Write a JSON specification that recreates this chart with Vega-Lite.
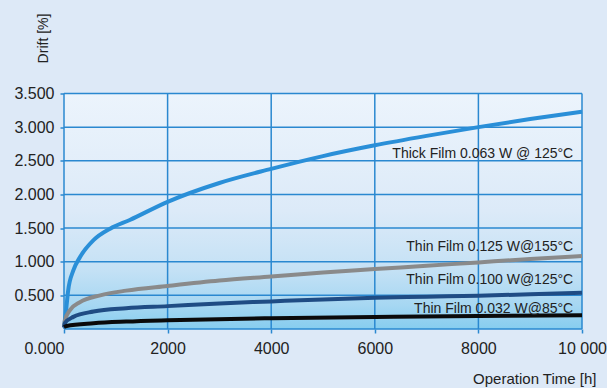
{
  "$schema": "https://vega.github.io/schema/vega-lite/v6.json",
  "width": 518,
  "height": 235.5,
  "autosize": {"type": "none"},
  "padding": {"left": 64, "top": 93.5, "right": 25, "bottom": 59},
  "background": "#dde9f7",
  "config": {"view": {"stroke": null}, "font": "Liberation Sans"},
  "datasets": {
    "bg": [{"x": 0, "x2": 10000, "y": 0, "y2": 3.5}],
    "vgrid": [{"x": 0}, {"x": 2000}, {"x": 4000}, {"x": 6000}, {"x": 8000}, {"x": 10000}],
    "hgrid": [{"y": 0}, {"y": 0.5}, {"y": 1}, {"y": 1.5}, {"y": 2}, {"y": 2.5}, {"y": 3}, {"y": 3.5}],
    "curves": [
      {"series": "Thick", "x": 0, "y": 0.03},
      {"series": "Thick", "x": 40, "y": 0.28},
      {"series": "Thick", "x": 80, "y": 0.57},
      {"series": "Thick", "x": 180, "y": 0.87},
      {"series": "Thick", "x": 310, "y": 1.07},
      {"series": "Thick", "x": 570, "y": 1.32},
      {"series": "Thick", "x": 890, "y": 1.49},
      {"series": "Thick", "x": 1270, "y": 1.62},
      {"series": "Thick", "x": 2000, "y": 1.89},
      {"series": "Thick", "x": 3000, "y": 2.17},
      {"series": "Thick", "x": 4000, "y": 2.38},
      {"series": "Thick", "x": 5000, "y": 2.57},
      {"series": "Thick", "x": 6000, "y": 2.73},
      {"series": "Thick", "x": 7000, "y": 2.87},
      {"series": "Thick", "x": 8000, "y": 3.0},
      {"series": "Thick", "x": 9000, "y": 3.12},
      {"series": "Thick", "x": 10000, "y": 3.23},
      {"series": "T125", "x": 0, "y": 0.03},
      {"series": "T125", "x": 20, "y": 0.13},
      {"series": "T125", "x": 115, "y": 0.28},
      {"series": "T125", "x": 310, "y": 0.4},
      {"series": "T125", "x": 700, "y": 0.5},
      {"series": "T125", "x": 1200, "y": 0.57},
      {"series": "T125", "x": 2000, "y": 0.64},
      {"series": "T125", "x": 3000, "y": 0.72},
      {"series": "T125", "x": 4000, "y": 0.78},
      {"series": "T125", "x": 5000, "y": 0.84},
      {"series": "T125", "x": 6000, "y": 0.89},
      {"series": "T125", "x": 7000, "y": 0.94},
      {"series": "T125", "x": 8000, "y": 0.99},
      {"series": "T125", "x": 9000, "y": 1.04},
      {"series": "T125", "x": 10000, "y": 1.085},
      {"series": "T100", "x": 0, "y": 0.02},
      {"series": "T100", "x": 20, "y": 0.09},
      {"series": "T100", "x": 180, "y": 0.18},
      {"series": "T100", "x": 570, "y": 0.26},
      {"series": "T100", "x": 1200, "y": 0.31},
      {"series": "T100", "x": 2000, "y": 0.34},
      {"series": "T100", "x": 3000, "y": 0.38},
      {"series": "T100", "x": 4000, "y": 0.41},
      {"series": "T100", "x": 5000, "y": 0.44},
      {"series": "T100", "x": 6000, "y": 0.465},
      {"series": "T100", "x": 7000, "y": 0.48},
      {"series": "T100", "x": 8000, "y": 0.495},
      {"series": "T100", "x": 9000, "y": 0.515},
      {"series": "T100", "x": 10000, "y": 0.54},
      {"series": "T032", "x": 0, "y": 0.03},
      {"series": "T032", "x": 50, "y": 0.045},
      {"series": "T032", "x": 570, "y": 0.085},
      {"series": "T032", "x": 1200, "y": 0.11},
      {"series": "T032", "x": 2000, "y": 0.13},
      {"series": "T032", "x": 4000, "y": 0.16},
      {"series": "T032", "x": 6000, "y": 0.18},
      {"series": "T032", "x": 8000, "y": 0.195},
      {"series": "T032", "x": 10000, "y": 0.205}
    ],
    "labels": [
      {"label": "Thick Film 0.063 W @ 125°C", "x": 9830, "y": 2.54},
      {"label": "Thin Film 0.125 W@155°C", "x": 9830, "y": 1.16},
      {"label": "Thin Film 0.100 W@125°C", "x": 9830, "y": 0.67},
      {"label": "Thin Film 0.032 W@85°C", "x": 9830, "y": 0.24}
    ]
  },
  "layer": [
    {
      "data": {"name": "bg"},
      "mark": {
        "type": "rect",
        "fill": {
          "gradient": "linear", "x1": 0, "y1": 0, "x2": 0, "y2": 1,
          "stops": [
            {"offset": 0, "color": "#ecf4fc"},
            {"offset": 0.5, "color": "#dceaf8"},
            {"offset": 0.75, "color": "#c4e1f5"},
            {"offset": 0.9, "color": "#a6d7f2"},
            {"offset": 1, "color": "#86cdef"}
          ]
        }
      },
      "encoding": {
        "x": {
          "field": "x", "type": "quantitative",
          "scale": {"domain": [0, 10000], "nice": false, "zero": false},
          "axis": {
            "values": [0, 2000, 4000, 6000, 8000, 10000],
            "tickCount": 20,
            "labelExpr": "datum.value == 0 ? '0.000' : datum.value == 10000 ? '10 000' : '' + datum.value",
            "labelAlign": {"condition": {"test": "datum.value == 0", "value": "right"}, "value": "center"},
            "grid": false, "domain": false,
            "tickColor": "#2a88d0", "tickSize": 4, "tickWidth": 1.5,
            "labelFontSize": 16, "labelColor": "#222222", "labelPadding": 7,
            "labelFlush": false, "labelOverlap": false,
            "title": "Operation Time [h]", "titleX": 532, "titleY": 54,
            "titleAlign": "right", "titleBaseline": "alphabetic", "titleAnchor": null,
            "titleFontWeight": "normal", "titleFontSize": 15, "titleColor": "#222222"
          }
        },
        "x2": {"field": "x2"},
        "y": {
          "field": "y", "type": "quantitative",
          "scale": {"domain": [0, 3.5], "nice": false},
          "axis": {
            "values": [0.5, 1, 1.5, 2, 2.5, 3, 3.5],
            "tickCount": 20,
            "format": ".3f",
            "grid": false, "domain": false,
            "tickColor": "#2a88d0", "tickSize": 4, "tickWidth": 1.5,
            "labelFontSize": 16, "labelColor": "#222222", "labelPadding": 6,
            "labelFlush": false, "labelOverlap": false, "labelBound": false,
            "title": "Drift [%]", "titleX": -17, "titleY": -55.5, "titleAngle": -90,
            "titleAlign": "center", "titleBaseline": "alphabetic", "titleAnchor": null,
            "titleFontWeight": "normal", "titleFontSize": 14, "titleColor": "#222222"
          }
        },
        "y2": {"field": "y2"}
      }
    },
    {
      "data": {"name": "vgrid"},
      "mark": {"type": "rule", "color": "#2a88d0", "strokeWidth": 1.5},
      "encoding": {"x": {"field": "x", "type": "quantitative"}}
    },
    {
      "data": {"name": "hgrid"},
      "mark": {"type": "rule", "color": "#2a88d0", "strokeWidth": 1.5},
      "encoding": {"y": {"field": "y", "type": "quantitative"}}
    },
    {
      "data": {"name": "curves"},
      "mark": {"type": "line", "strokeWidth": 4, "interpolate": "monotone"},
      "encoding": {
        "x": {"field": "x", "type": "quantitative"},
        "y": {"field": "y", "type": "quantitative"},
        "color": {
          "field": "series", "type": "nominal",
          "scale": {"domain": ["Thick", "T125", "T100", "T032"], "range": ["#2a8fd8", "#8a8a8a", "#1f4c84", "#0a0a0a"]},
          "legend": null
        }
      }
    },
    {
      "data": {"name": "labels"},
      "mark": {"type": "text", "align": "right", "baseline": "alphabetic", "fontSize": 14, "color": "#222222"},
      "encoding": {
        "x": {"field": "x", "type": "quantitative"},
        "y": {"field": "y", "type": "quantitative"},
        "text": {"field": "label"}
      }
    }
  ]
}
